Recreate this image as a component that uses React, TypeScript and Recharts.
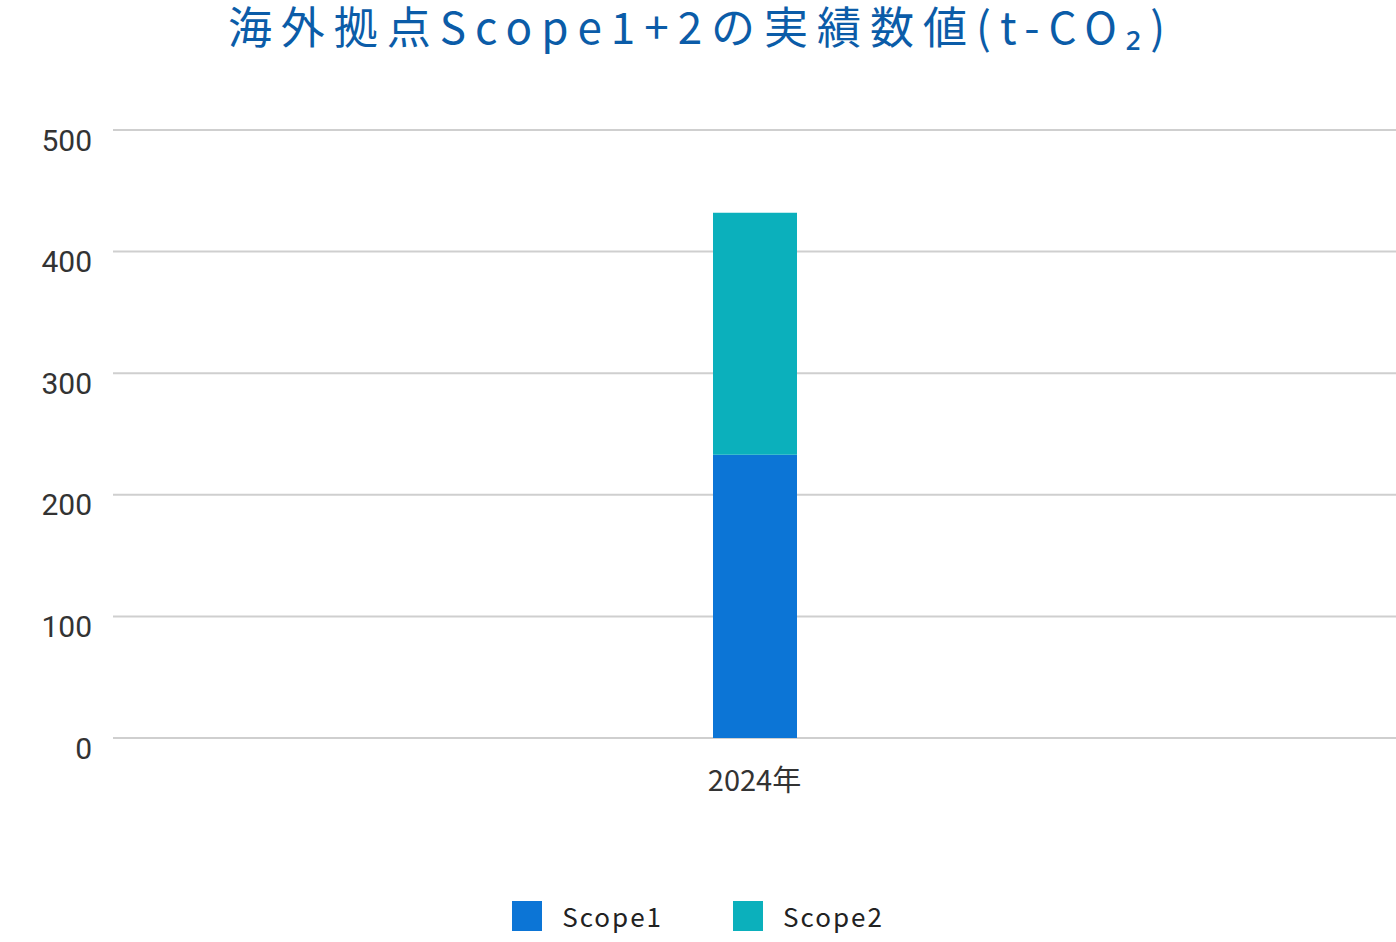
import React from "react";
import { BarChart, Bar, XAxis, YAxis, CartesianGrid, Legend } from "recharts";

const years = ["2024年"];
const scope1 = [233];
const scope2 = [199];
const yTicks = [0, 100, 200, 300, 400, 500];

const seriesNames = ["Scope1", "Scope2"];
const seriesColors = ["#0c75d6", "#0bb0bc"];

const data = years.map((y, i) => ({ name: y, scope1: scope1[i], scope2: scope2[i] }));

const FONT = "'Noto Sans CJK JP', 'Noto Sans', sans-serif";

const YTick = (props: any) => {
  const { x, y, payload } = props;
  return (
    <text x={x} y={y + 10} textAnchor="end" dominantBaseline="central" fontSize={30} fill="#333" fontFamily="Roboto, sans-serif">
      {payload.value}
    </text>
  );
};

const XTick = (props: any) => {
  const { x, y, payload } = props;
  return (
    <text x={x} y={y + 32} textAnchor="middle" dominantBaseline="central" fontSize={29} fill="#333" fontFamily={FONT}>
      {payload.value}
    </text>
  );
};

const LegendContent = () => (
  <div style={{ display: "flex", justifyContent: "center", fontFamily: FONT, fontSize: 26, color: "#222", lineHeight: "38px" }}>
    {seriesNames.map((n, i) => (
      <div key={n} style={{ display: "flex", alignItems: "center", marginRight: i === 0 ? 70 : 0 }}>
        <span style={{ width: 30, height: 30, background: seriesColors[i], display: "inline-block", marginRight: 20 }} />
        <span style={{ letterSpacing: 2 }}>{n}</span>
      </div>
    ))}
  </div>
);

export default function App() {
  return (
    <div style={{ position: "absolute", left: 0, top: 0, width: 1396, height: 942, background: "#fff" }}>
      <svg width={1396} height={60} style={{ position: "absolute", top: 0, left: 0 }}>
        <text
          x={701}
          y={25}
          textAnchor="middle"
          dominantBaseline="central"
          fontFamily={FONT}
          fontSize={44}
          letterSpacing={9}
          fill="#0b5ca8"
        >
          海外拠点Scope1+2の実績数値(t-CO₂)
        </text>
      </svg>
      <BarChart width={1396} height={942} data={data} margin={{ top: 130, right: 0, left: 0, bottom: 144 }}>
        <CartesianGrid vertical={false} stroke="#cfcfcf" strokeWidth={2} />
        <XAxis dataKey="name" axisLine={false} tickLine={false} tick={<XTick />} height={60} interval={0} />
        <YAxis
          domain={[0, 500]}
          ticks={yTicks}
          axisLine={false}
          tickLine={false}
          tickSize={0}
          tickMargin={21}
          width={113}
          tick={<YTick />}
          interval={0}
        />
        <Legend
          content={<LegendContent />}
          verticalAlign="middle"
          align="center"
          wrapperStyle={{ top: 897, left: 0, width: 1396, height: 38 }}
        />
        <Bar dataKey="scope1" name={seriesNames[0]} stackId="a" fill={seriesColors[0]} barSize={84} isAnimationActive={false} />
        <Bar dataKey="scope2" name={seriesNames[1]} stackId="a" fill={seriesColors[1]} barSize={84} isAnimationActive={false} />
      </BarChart>
    </div>
  );
}
